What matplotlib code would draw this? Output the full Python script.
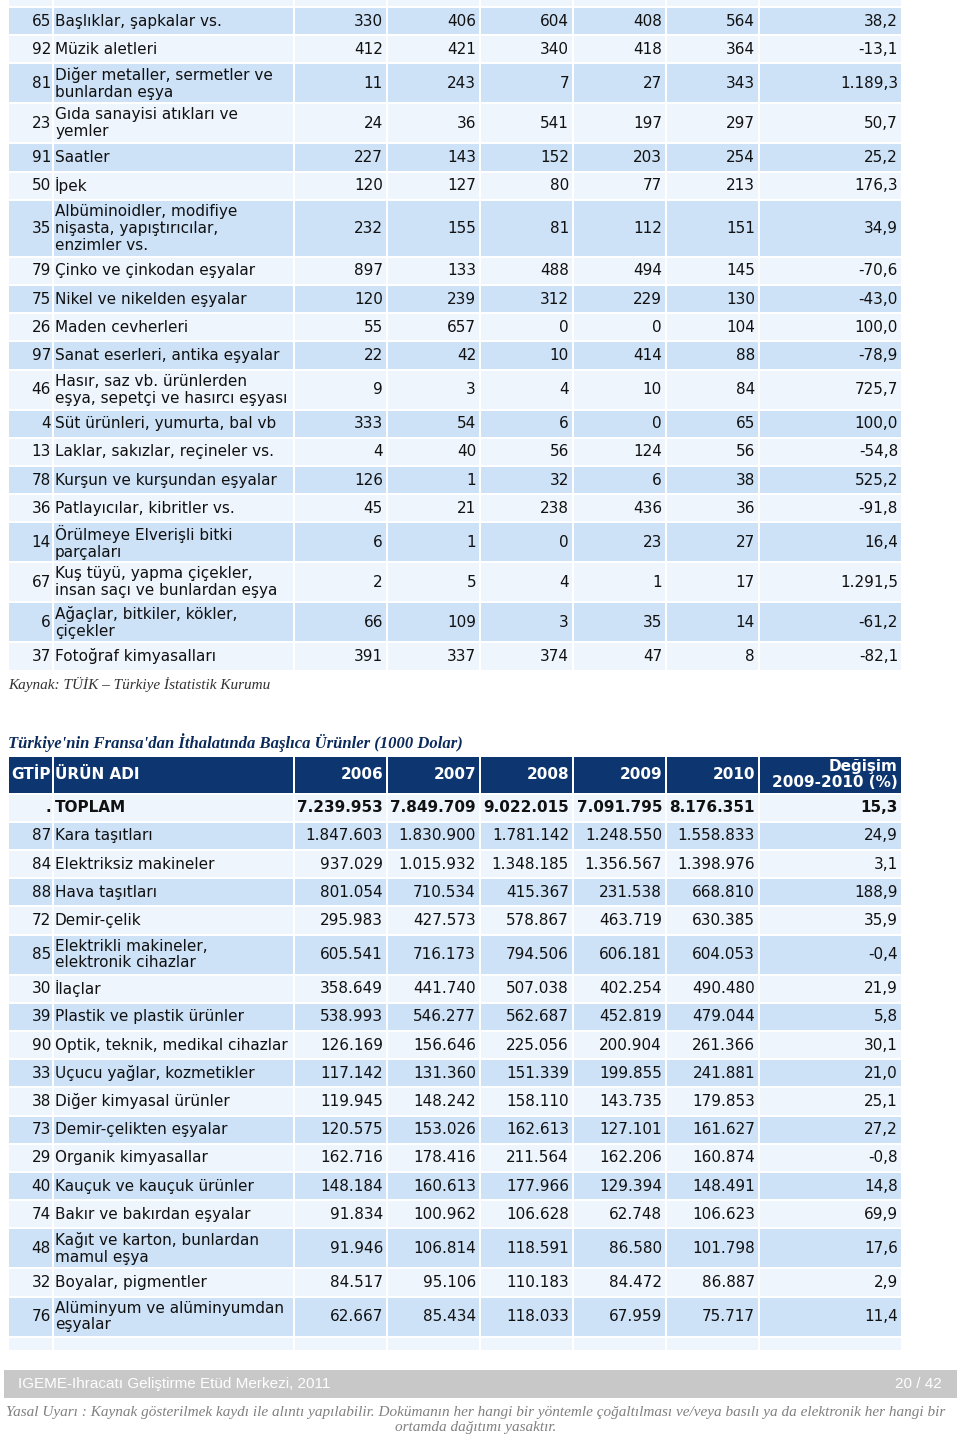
import matplotlib
matplotlib.use('Agg')
from matplotlib import pyplot as plt
from matplotlib.patches import Rectangle

# first table (continued from previous page)
codes1 = ['65', '92', '81', '23', '91', '50', '35', '79', '75', '26',
          '97', '46', '4', '13', '78', '36', '14', '67', '6', '37']
names1 = ['Başlıklar, şapkalar vs.', 'Müzik aletleri',
          'Diğer metaller, sermetler ve\nbunlardan eşya',
          'Gıda sanayisi atıkları ve\nyemler', 'Saatler', 'İpek',
          'Albüminoidler, modifiye\nnişasta, yapıştırıcılar,\nenzimler vs.',
          'Çinko ve çinkodan eşyalar', 'Nikel ve nikelden eşyalar',
          'Maden cevherleri', 'Sanat eserleri, antika eşyalar',
          'Hasır, saz vb. ürünlerden\neşya, sepetçi ve hasırcı eşyası',
          'Süt ürünleri, yumurta, bal vb', 'Laklar, sakızlar, reçineler vs.',
          'Kurşun ve kurşundan eşyalar', 'Patlayıcılar, kibritler vs.',
          'Örülmeye Elverişli bitki\nparçaları',
          'Kuş tüyü, yapma çiçekler,\ninsan saçı ve bunlardan eşya',
          'Ağaçlar, bitkiler, kökler,\nçiçekler', 'Fotoğraf kimyasalları']
v2006_1 = ['330', '412', '11', '24', '227', '120', '232', '897', '120', '55',
           '22', '9', '333', '4', '126', '45', '6', '2', '66', '391']
v2007_1 = ['406', '421', '243', '36', '143', '127', '155', '133', '239', '657',
           '42', '3', '54', '40', '1', '21', '1', '5', '109', '337']
v2008_1 = ['604', '340', '7', '541', '152', '80', '81', '488', '312', '0',
           '10', '4', '6', '56', '32', '238', '0', '4', '3', '374']
v2009_1 = ['408', '418', '27', '197', '203', '77', '112', '494', '229', '0',
           '414', '10', '0', '124', '6', '436', '23', '1', '35', '47']
v2010_1 = ['564', '364', '343', '297', '254', '213', '151', '145', '130', '104',
           '88', '84', '65', '56', '38', '36', '27', '17', '14', '8']
change1 = ['38,2', '-13,1', '1.189,3', '50,7', '25,2', '176,3', '34,9', '-70,6',
           '-43,0', '100,0', '-78,9', '725,7', '100,0', '-54,8', '525,2', '-91,8',
           '16,4', '1.291,5', '-61,2', '-82,1']

# second table
title2 = "Türkiye'nin Fransa'dan İthalatında Başlıca Ürünler (1000 Dolar)"
header2 = ['GTİP', 'ÜRÜN ADI', '2006', '2007', '2008', '2009', '2010',
           'Değişim\n2009-2010 (%)']
codes2 = ['.', '87', '84', '88', '72', '85', '30', '39', '90', '33', '38',
          '73', '29', '40', '74', '48', '32', '76']
names2 = ['TOPLAM', 'Kara taşıtları', 'Elektriksiz makineler', 'Hava taşıtları',
          'Demir-çelik', 'Elektrikli makineler,\nelektronik cihazlar', 'İlaçlar',
          'Plastik ve plastik ürünler', 'Optik, teknik, medikal cihazlar',
          'Uçucu yağlar, kozmetikler', 'Diğer kimyasal ürünler',
          'Demir-çelikten eşyalar', 'Organik kimyasallar',
          'Kauçuk ve kauçuk ürünler', 'Bakır ve bakırdan eşyalar',
          'Kağıt ve karton, bunlardan\nmamul eşya', 'Boyalar, pigmentler',
          'Alüminyum ve alüminyumdan\neşyalar']
v2006_2 = ['7.239.953', '1.847.603', '937.029', '801.054', '295.983', '605.541',
           '358.649', '538.993', '126.169', '117.142', '119.945', '120.575',
           '162.716', '148.184', '91.834', '91.946', '84.517', '62.667']
v2007_2 = ['7.849.709', '1.830.900', '1.015.932', '710.534', '427.573', '716.173',
           '441.740', '546.277', '156.646', '131.360', '148.242', '153.026',
           '178.416', '160.613', '100.962', '106.814', '95.106', '85.434']
v2008_2 = ['9.022.015', '1.781.142', '1.348.185', '415.367', '578.867', '794.506',
           '507.038', '562.687', '225.056', '151.339', '158.110', '162.613',
           '211.564', '177.966', '106.628', '118.591', '110.183', '118.033']
v2009_2 = ['7.091.795', '1.248.550', '1.356.567', '231.538', '463.719', '606.181',
           '402.254', '452.819', '200.904', '199.855', '143.735', '127.101',
           '162.206', '129.394', '62.748', '86.580', '84.472', '67.959']
v2010_2 = ['8.176.351', '1.558.833', '1.398.976', '668.810', '630.385', '604.053',
           '490.480', '479.044', '261.366', '241.881', '179.853', '161.627',
           '160.874', '148.491', '106.623', '101.798', '86.887', '75.717']
change2 = ['15,3', '24,9', '3,1', '188,9', '35,9', '-0,4', '21,9', '5,8', '30,1',
           '21,0', '25,1', '27,2', '-0,8', '14,8', '69,9', '17,6', '2,9', '11,4']

source = 'Kaynak: TÜİK – Türkiye İstatistik Kurumu'
footer = 'IGEME-Ihracatı Geliştirme Etüd Merkezi, 2011'
page = '20 / 42'
disclaimer = ('Yasal Uyarı : Kaynak gösterilmek kaydı ile alıntı yapılabilir. '
              'Dokümanın her hangi bir yöntemle çoğaltılması ve/veya basılı ya da '
              'elektronik her hangi bir\nortamda dağıtımı yasaktır.')

# layout (pixels)
col_edges = [8, 53, 294, 387, 480, 573, 666, 759, 902]
BLUE = '#cde1f7'
LIGHT = '#eef5fd'
NAVY = '#0d3670'
FS = 11
LS = 1.15


def row_height(name):
    n = name.count('\n') + 1
    return {1: 28.2, 2: 40.0, 3: 57.0}[n]


def draw_row(ax, y, h, color, cells, bold=False, txtcolor='#111111'):
    for i in range(8):
        x0, x1 = col_edges[i], col_edges[i + 1]
        ax.add_patch(Rectangle((x0 + 1, y + 1), x1 - x0 - 2, h - 2,
                               facecolor=color, edgecolor='none'))
    if cells is None:
        return
    weight = 'bold' if bold else 'normal'
    yc = y + h / 2
    ax.text(col_edges[1] - 2, yc, cells[0], ha='right', va='center',
            fontsize=FS, fontweight=weight, color=txtcolor)
    ax.text(col_edges[1] + 2, yc, cells[1], ha='left', va='center',
            fontsize=FS, fontweight=weight, color=txtcolor, linespacing=LS)
    for i in range(2, 8):
        ax.text(col_edges[i + 1] - 4, yc, cells[i], ha='right', va='center',
                fontsize=FS, fontweight=weight, color=txtcolor, linespacing=1.05)


fig = plt.figure(figsize=(9.6, 14.37), dpi=100)
ax = fig.add_axes([0, 0, 1, 1])
ax.set_xlim(0, 960)
ax.set_ylim(1437, 0)
ax.axis('off')

# table 1
draw_row(ax, -21, 28.2, LIGHT, None)
y = 7
for k in range(len(codes1)):
    h = row_height(names1[k])
    color = BLUE if k % 2 == 0 else LIGHT
    draw_row(ax, y, h, color, [codes1[k], names1[k], v2006_1[k], v2007_1[k],
                               v2008_1[k], v2009_1[k], v2010_1[k], change1[k]])
    y += h

ax.text(8, 684, source, ha='left', va='center', fontsize=11, style='italic',
        family='Liberation Serif', color='#333333')

# table 2
ax.text(8, 743, title2, ha='left', va='center', fontsize=12, style='italic',
        fontweight='bold', family='Liberation Serif', color='#0b2a5c')
draw_row(ax, 756, 37.5, NAVY, header2, bold=True, txtcolor='white')
y = 793.5
for k in range(len(codes2)):
    h = row_height(names2[k])
    color = LIGHT if k % 2 == 0 else BLUE
    draw_row(ax, y, h, color, [codes2[k], names2[k], v2006_2[k], v2007_2[k],
                               v2008_2[k], v2009_2[k], v2010_2[k], change2[k]],
             bold=(k == 0))
    y += h
draw_row(ax, y, 14, LIGHT, None)

# footer
ax.add_patch(Rectangle((4, 1370), 953, 28, facecolor='#c8c8c8', edgecolor='none'))
ax.text(18, 1384, footer, ha='left', va='center', fontsize=11,
        family='Liberation Sans', color='white')
ax.text(942, 1384, page, ha='right', va='center', fontsize=11,
        family='Liberation Sans', color='white')
ax.text(476, 1420, disclaimer, ha='center', va='center', fontsize=11,
        style='italic', family='Liberation Serif', color='#808080',
        linespacing=1.15)

fig.savefig('out.png', dpi=100)
